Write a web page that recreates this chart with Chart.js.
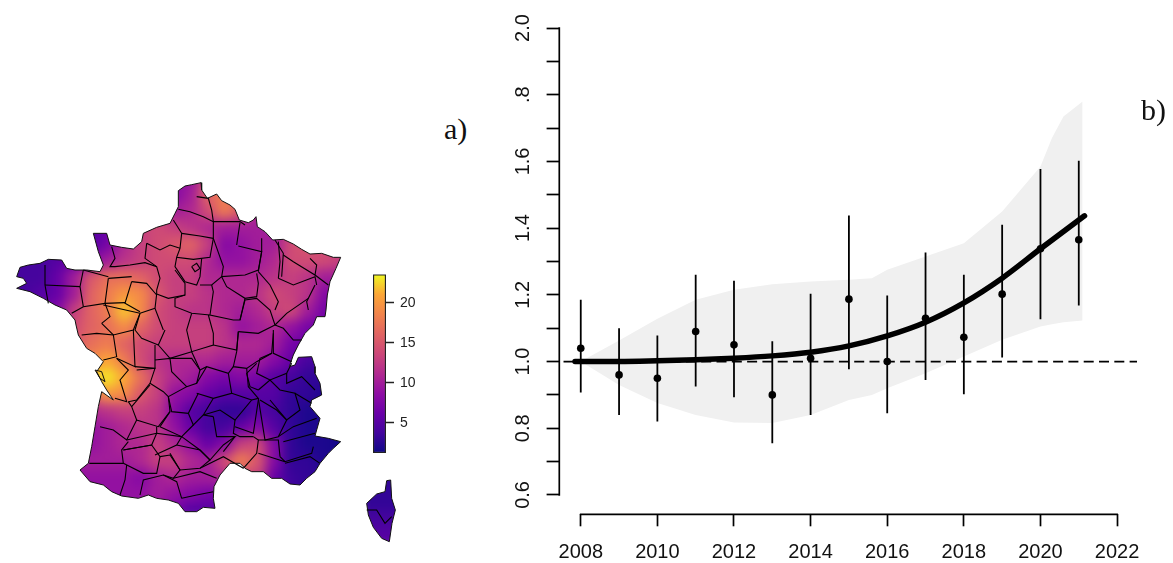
<!DOCTYPE html>
<html>
<head>
<meta charset="utf-8">
<title>Map and trend</title>
<script src="https://cdn.jsdelivr.net/npm/chart.js@4"></script>
<style>
  html, body { margin: 0; padding: 0; background: #fff; width: 1173px; height: 563px; overflow: hidden; }
  canvas { position: absolute; }
  .tag { position: absolute; font-family: 'Liberation Serif', serif; font-size: 30px; line-height: 32px; color: #111; }
</style>
</head>
<body>
<canvas id="mapChart" width="420" height="380" style="left:0;top:170px"></canvas>
<canvas id="barChart" width="70" height="210" style="left:360px;top:260px"></canvas>
<canvas id="trendChart" width="683" height="563" style="left:490px;top:0"></canvas>
<span class="tag" style="left:444px;top:113px">a)</span>
<span class="tag" style="left:1141px;top:94px">b)</span>
<script>
// Trend panel
const years = [2008, 2009, 2010, 2011, 2012, 2013, 2014, 2015, 2016, 2017, 2018, 2019, 2020, 2021];
const estimates = [1.04, 0.96, 0.95, 1.09, 1.05, 0.90, 1.01, 1.187, 1.0, 1.13, 1.073, 1.202, 1.338, 1.365];
const errLow = [0.907, 0.84, 0.82, 0.925, 0.893, 0.755, 0.84, 0.977, 0.845, 0.945, 0.902, 1.012, 1.127, 1.168];
const errHigh = [1.185, 1.10, 1.078, 1.26, 1.242, 1.061, 1.203, 1.438, 1.198, 1.327, 1.26, 1.41, 1.577, 1.602];

const trendX = [2007.85, 2009, 2010, 2011, 2012, 2013, 2014, 2015, 2016, 2017, 2018, 2019, 2020, 2021.15];
const trendY = [1.0, 1.0, 1.002, 1.005, 1.01, 1.017, 1.028, 1.047, 1.077, 1.118, 1.176, 1.25, 1.338, 1.437];

const bandX = [2008, 2009, 2010, 2011, 2012, 2013, 2014, 2015, 2015.6, 2016, 2017, 2018, 2019, 2020, 2020.3, 2020.6, 2021.1];
const bandHigh = [1.0, 1.063, 1.128, 1.185, 1.215, 1.232, 1.24, 1.245, 1.25, 1.275, 1.315, 1.355, 1.45, 1.585, 1.67, 1.735, 1.78];
const bandLow = [1.0, 0.93, 0.876, 0.84, 0.817, 0.816, 0.84, 0.885, 0.90, 0.92, 0.965, 1.015, 1.065, 1.105, 1.112, 1.118, 1.123];

const xTicks = [2008, 2010, 2012, 2014, 2016, 2018, 2020, 2022];
const yTicks = [0.6, 0.7, 0.8, 0.9, 1.0, 1.1, 1.2, 1.3, 1.4, 1.5, 1.6, 1.7, 1.8, 1.9, 2.0];
const yLabels = ['0.6', '', '0.8', '', '1.0', '', '1.2', '', '1.4', '', '1.6', '', '.8', '', '2.0'];

// Colour bar
const barRange = [1.23, 23.56];
const barTicks = [5, 10, 15, 20];
const plasma = ['#0d0887', '#41049d', '#6a00a8', '#8f0da4', '#b12a90', '#cc4778', '#e16462', '#f2844b', '#fca636', '#f0f921'];

// Map panel: rough value grid, one row per line, cells 50 map units apart
const gridX = [25, 75, 125, 175, 225, 275, 325, 375, 425, 475, 525, 575, 625, 675, 725, 775, 825, 875, 925, 975, 1025];
const gridY = [25, 75, 125, 175, 225, 275, 325, 375, 425, 475, 525, 575, 625, 675, 725, 775, 825, 875, 925, 975, 1025];
const heatRows = [
  [10, 10, 10, 10, 10, 10, 10, 10, 10, 10, 9, 9, 15, 17, 14, 11, 10, 10, 10, 10, 10],
  [10, 10, 10, 10, 10, 10, 10, 10, 10, 10, 8, 10, 16, 18, 15, 11, 10, 10, 10, 10, 10],
  [10, 10, 10, 10, 10, 10, 10, 10, 10, 12, 10, 11, 14, 18, 15, 11, 10, 10, 10, 10, 10],
  [5, 5, 5, 5, 5, 5, 6, 10, 13, 14, 13, 12, 11, 10, 10, 10, 10, 13, 13, 13, 13],
  [5, 5, 5, 5, 5, 5, 7, 11, 13, 14, 15, 16, 13, 8, 9, 10, 10, 14, 15, 14, 13],
  [4, 4, 4, 5, 6, 8, 10, 12, 13, 14, 14, 14, 11, 9, 9, 10, 11, 14, 14, 14, 13],
  [4, 4, 4, 6, 10, 15, 17, 17, 16, 14, 13, 13, 11, 11, 11, 11, 12, 13, 12, 10, 10],
  [4, 4, 5, 6, 10, 16, 18, 20, 19, 15, 13, 13, 12, 11, 11, 12, 14, 13, 12, 8, 8],
  [4, 5, 6, 8, 13, 16, 18, 22, 19, 14, 13, 12, 12, 11, 10, 11, 13, 14, 10, 7, 7],
  [8, 8, 8, 10, 14, 16, 17, 19, 16, 14, 13, 13, 13, 12, 9, 10, 11, 9, 7, 6, 6],
  [14, 14, 14, 14, 15, 17, 18, 16, 14, 13, 13, 13, 13, 12, 11, 11, 10, 7, 6, 6, 6],
  [20, 20, 20, 18, 18, 19, 21, 18, 14, 12, 11, 11, 11, 10, 10, 10, 8, 6, 4, 4, 4],
  [20, 20, 20, 20, 21, 22, 23, 21, 17, 13, 11, 10, 8, 7, 8, 7, 5, 4, 3, 3, 3],
  [14, 14, 14, 14, 15, 16, 20, 19, 15, 13, 9, 8, 6, 5, 5, 5, 5, 3, 3, 2, 2],
  [11, 11, 11, 11, 11, 11, 12, 13, 13, 12, 8, 5, 4, 3, 3, 5, 4, 3, 2, 2, 2],
  [9, 9, 9, 9, 9, 9, 10, 11, 12, 12, 9, 6, 4, 4, 6, 8, 5, 3, 2, 2, 2],
  [9, 9, 9, 9, 9, 9, 10, 11, 11, 13, 11, 9, 6, 8, 13, 14, 8, 3, 2, 2, 1.5],
  [10, 10, 10, 10, 10, 10, 10, 10, 11, 13, 13, 11, 10, 14, 18, 15, 8, 3, 3, 2, 2],
  [9, 9, 9, 9, 9, 9, 9, 9, 8, 10, 11, 10, 10, 11, 13, 13, 6, 3.5, 3, 3, 3],
  [9, 9, 9, 9, 9, 9, 9, 9, 9, 10, 9, 8, 7, 7, 7, 7, 6, 4, 3, 3, 3],
  [9, 9, 9, 9, 9, 9, 9, 9, 9, 9, 7, 5, 5, 5, 5, 5, 5, 4, 3, 3, 3]
];
const corsicaX = [1100, 1150, 1200];
const corsicaY = [900, 950, 1000, 1050, 1100, 1150];
const corsicaRows = [
  [3, 3, 3],
  [3, 3, 3],
  [3, 3, 3],
  [4, 4, 4],
  [5, 5, 5],
  [5, 5, 5]
];

const mainland = [[535,62],[555,48],[575,44],[603,38],[605,60],[622,85],[650,72],[665,92],[690,105],[705,118],[718,150],[745,158],[760,150],[768,140],[772,170],[795,185],[818,210],[850,208],[880,222],[905,238],[930,252],[965,250],[1000,262],[1022,262],[1008,295],[990,335],[982,375],[978,420],[975,440],[950,440],[940,465],[915,490],[895,525],[880,555],[868,590],[885,585],[895,562],[935,560],[945,590],[945,610],[960,640],[965,675],[935,690],[930,710],[960,745],[950,780],[945,798],[985,805],[1022,815],[1000,835],[985,850],[960,880],[945,905],[920,925],[900,945],[870,942],[845,925],[815,925],[790,905],[755,905],[735,895],[720,880],[690,880],[660,915],[642,950],[640,985],[645,1015],[610,1012],[590,1025],[555,1025],[535,1000],[505,990],[470,985],[445,975],[415,985],[365,978],[335,965],[310,945],[270,935],[240,900],[265,880],[275,830],[285,770],[295,710],[305,665],[340,690],[320,660],[305,635],[290,605],[310,575],[285,550],[260,535],[235,495],[228,465],[225,450],[200,420],[165,405],[130,385],[90,365],[50,355],[80,340],[70,325],[50,320],[60,292],[85,285],[120,280],[145,268],[185,270],[200,295],[225,300],[260,300],[300,305],[310,285],[295,245],[280,190],[320,190],[330,225],[365,232],[400,237],[425,215],[430,190],[470,172],[510,160],[525,130],[535,110],[535,62]];
const corsica = [[1160,932],[1172,930],[1175,985],[1186,1020],[1176,1060],[1168,1115],[1145,1105],[1120,1072],[1105,1035],[1100,1000],[1130,972],[1155,965],[1160,932]];
const oleron = [[285,600],[305,605],[315,635],[300,625],[285,600]];

const borders = [
  [[535,118],[570,125],[610,140],[640,155],[720,155],[735,165]],
  [[590,80],[625,85],[635,120],[640,155]],
  [[520,150],[545,190],[540,235],[530,262],[580,268],[630,262],[640,205],[640,155]],
  [[545,190],[600,198],[640,205]],
  [[440,220],[480,240],[510,225],[540,235]],
  [[440,220],[435,265],[470,290]],
  [[345,290],[390,285],[435,278],[470,290],[480,325],[470,360],[470,372]],
  [[335,230],[345,265],[330,290],[345,290]],
  [[530,262],[525,290],[555,335],[590,345],[600,320],[605,265]],
  [[575,290],[590,280],[600,295],[585,305],[575,290]],
  [[525,300],[555,340],[555,375],[505,385],[470,372]],
  [[600,345],[635,345],[665,320]],
  [[640,205],[670,290],[665,320],[735,315],[775,300],[785,245],[715,228]],
  [[720,158],[710,225]],
  [[785,205],[785,245],[775,305]],
  [[835,215],[840,275],[835,325]],
  [[825,210],[850,250],[845,320]],
  [[850,255],[880,275],[945,315],[950,285],[930,265]],
  [[945,315],[985,345]],
  [[835,325],[880,345],[945,320],[950,345]],
  [[945,345],[920,395],[925,420]],
  [[775,305],[810,345],[835,395],[825,420]],
  [[665,320],[680,350],[735,385],[770,380],[775,340],[770,310]],
  [[635,345],[640,365],[630,435],[700,450],[720,450],[735,385]],
  [[720,450],[725,430],[735,390],[770,385],[810,420],[825,465],[775,490],[715,485]],
  [[825,465],[860,430],[925,385]],
  [[825,465],[850,475],[880,510],[905,510]],
  [[820,480],[820,550],[875,575]],
  [[555,375],[525,385],[525,410],[575,430],[630,435]],
  [[470,372],[465,415],[490,480]],
  [[575,430],[560,480],[575,545],[640,525],[640,490],[625,435]],
  [[640,525],[710,540],[715,485]],
  [[715,485],[710,545],[700,590],[740,595],[770,575],[815,550],[820,490]],
  [[495,480],[475,525],[510,565],[575,545]],
  [[420,430],[465,415]],
  [[420,430],[405,480],[425,505],[475,525]],
  [[310,405],[420,430]],
  [[305,460],[340,495],[400,480],[420,430]],
  [[395,335],[375,400],[420,425]],
  [[395,335],[440,340],[470,375]],
  [[325,325],[395,320]],
  [[325,325],[315,400],[375,398]],
  [[250,300],[325,320]],
  [[250,410],[240,350],[250,300]],
  [[315,400],[250,410],[215,430]],
  [[135,345],[240,350]],
  [[135,285],[135,345],[145,400]],
  [[315,400],[330,440],[305,460]],
  [[245,495],[290,490],[340,495],[350,560],[310,570]],
  [[400,480],[405,590],[350,565]],
  [[465,525],[465,595],[410,600]],
  [[350,565],[385,600],[360,630],[380,695],[345,685]],
  [[405,590],[465,595],[450,640],[410,690],[385,695]],
  [[465,570],[510,565],[515,605],[560,650],[505,680],[490,665],[450,640]],
  [[510,565],[575,565],[600,600],[590,640],[560,650]],
  [[575,545],[600,600],[620,590],[685,610],[700,590]],
  [[590,640],[620,590]],
  [[685,610],[695,670],[640,685],[590,670]],
  [[505,680],[515,725],[565,730],[595,670]],
  [[565,730],[580,765],[610,735],[640,685]],
  [[610,735],[660,720],[705,750],[755,690],[695,670]],
  [[740,595],[745,650],[775,685],[755,690]],
  [[770,580],[740,610],[750,650],[775,660]],
  [[815,550],[780,565],[770,610],[810,630],[860,610],[875,580]],
  [[775,660],[810,630],[840,660],[885,670],[900,720],[860,750],[830,720],[780,690]],
  [[860,610],[860,640],[905,620],[945,660]],
  [[885,670],[935,700]],
  [[775,685],[795,810],[835,800],[860,750],[810,690]],
  [[775,690],[760,790],[705,770]],
  [[705,750],[700,790],[720,800],[760,800]],
  [[640,740],[650,800],[705,800],[670,825],[630,870],[600,840],[545,800]],
  [[610,735],[640,740]],
  [[580,765],[545,800],[480,770],[510,725]],
  [[395,710],[450,645]],
  [[505,680],[510,725],[475,770],[410,750],[395,710],[385,695]],
  [[300,770],[340,780],[380,810],[410,750]],
  [[380,810],[470,790],[455,825],[370,840]],
  [[470,770],[470,790],[545,800],[530,825],[465,855]],
  [[268,880],[370,880],[365,840],[385,815]],
  [[370,840],[455,825],[480,860],[470,910],[430,910],[370,880]],
  [[530,825],[600,840],[630,870],[600,895],[540,900],[510,850]],
  [[480,860],[510,855],[540,900],[520,925],[490,915],[430,930],[420,975]],
  [[490,915],[530,935],[545,985]],
  [[520,925],[600,905],[650,925]],
  [[545,985],[590,975],[640,965]],
  [[600,895],[670,860],[730,895]],
  [[670,845],[705,800]],
  [[760,800],[775,810],[770,850],[730,895]],
  [[775,850],[855,875]],
  [[775,810],[835,810],[840,860]],
  [[855,880],[930,860],[960,880]],
  [[835,800],[880,770],[950,745]],
  [[850,815],[945,790]],
  [[840,860],[855,875],[935,850],[940,830]],
  [[380,885],[375,930],[360,975]],
  [[1100,1020],[1130,1020],[1155,1060],[1175,1040]]
];

// Linear mix between the plasma stops
function mixColor(v) {
  const t = Math.min(1, Math.max(0, (v - barRange[0]) / (barRange[1] - barRange[0]))) * (plasma.length - 1);
  const i = Math.min(plasma.length - 2, Math.floor(t));
  const f = t - i;
  const a = parseInt(plasma[i].slice(1), 16);
  const b = parseInt(plasma[i + 1].slice(1), 16);
  const ch = s => Math.round(((a >> s) & 255) * (1 - f) + ((b >> s) & 255) * f);
  return `rgb(${ch(16)}, ${ch(8)}, ${ch(0)})`;
}

const toPoints = list => list.map(p => ({ x: p[0], y: p[1] }));

// Map heat cells, from both grids
const heatPoints = [];
const heatColors = [];
heatRows.forEach((row, r) => row.forEach((v, c) => {
  heatPoints.push({ x: gridX[c], y: gridY[r] });
  heatColors.push(mixColor(v));
}));
corsicaRows.forEach((row, r) => row.forEach((v, c) => {
  heatPoints.push({ x: corsicaX[c], y: corsicaY[r] });
  heatColors.push(mixColor(v));
}));

// Once the heat cells are drawn, blur them as one image and clip to the coast
const heatClip = {
  id: 'heatClip',
  afterDatasetDraw(chart, args) {
    if (args.index !== 0) return;
    const { ctx, canvas, scales } = chart;
    const copy = document.createElement('canvas');
    copy.width = canvas.width;
    copy.height = canvas.height;
    copy.getContext('2d').drawImage(canvas, 0, 0);
    ctx.clearRect(0, 0, canvas.width, canvas.height);
    ctx.save();
    ctx.beginPath();
    [mainland, corsica, oleron].forEach(shape => {
      shape.forEach((p, i) => {
        const px = scales.x.getPixelForValue(p[0]);
        const py = scales.y.getPixelForValue(p[1]);
        if (i === 0) ctx.moveTo(px, py); else ctx.lineTo(px, py);
      });
      ctx.closePath();
    });
    ctx.clip();
    ctx.filter = 'blur(6px)';
    ctx.drawImage(copy, 0, 0);
    ctx.restore();
  }
};

const lineSet = (pts, width, color) => ({
  type: 'line', data: toPoints(pts), borderColor: color, borderWidth: width,
  pointRadius: 0, fill: false, clip: false, order: 1, tension: 0
});

new Chart(document.getElementById('mapChart'), {
  type: 'scatter',
  data: {
    datasets: [
      { data: heatPoints, pointStyle: 'rect', pointRadius: 13, pointBorderWidth: 0, pointBackgroundColor: heatColors, clip: false, order: 2 },
      lineSet(mainland, 1, '#111'),
      lineSet(corsica, 1, '#111'),
      lineSet(oleron, 1, '#111'),
      ...borders.map(b => lineSet(b, 1.1, '#000'))
    ]
  },
  options: {
    responsive: false,
    animation: false,
    layout: { padding: 0, autoPadding: false },
    plugins: { legend: { display: false }, tooltip: { enabled: false } },
    scales: {
      x: { type: 'linear', min: 0, max: 1260, display: false },
      y: { type: 'linear', min: 0, max: 1140, reverse: true, display: false }
    }
  },
  plugins: [heatClip]
});

new Chart(document.getElementById('barChart'), {
  type: 'bar',
  data: {
    labels: [''],
    datasets: [{
      data: [barRange],
      categoryPercentage: 1,
      barPercentage: 1,
      borderColor: '#222',
      borderWidth: 1.5,
      borderSkipped: false,
      backgroundColor(c) {
        const area = c.chart.chartArea;
        if (!area) return plasma[0];
        const g = c.chart.ctx.createLinearGradient(0, area.bottom, 0, area.top);
        plasma.forEach((col, i) => g.addColorStop(i / (plasma.length - 1), col));
        return g;
      }
    }]
  },
  options: {
    responsive: false,
    animation: false,
    layout: { padding: { left: 13, top: 11, bottom: 17 } },
    plugins: { legend: { display: false }, tooltip: { enabled: false } },
    scales: {
      x: { display: false },
      y: {
        position: 'right',
        min: barRange[0],
        max: barRange[1],
        afterBuildTicks: s => { s.ticks = barTicks.map(v => ({ value: v })); },
        afterFit: s => { s.width = 44; },
        border: { display: false },
        grid: { drawOnChartArea: false, tickLength: 8, tickColor: '#222', tickWidth: 1.5 },
        ticks: { autoSkip: false, padding: 6, color: '#222', font: { family: "'Liberation Sans', Arial, sans-serif", size: 14 } }
      }
    }
  }
});

// R-style axis lines that only run between the outer ticks
const axisSpines = {
  id: 'axisSpines',
  afterDraw(chart) {
    const { ctx, scales, chartArea } = chart;
    ctx.save();
    ctx.strokeStyle = '#000';
    ctx.lineWidth = 1.7;
    ctx.lineCap = 'square';
    ctx.beginPath();
    ctx.moveTo(chartArea.left, scales.y.getPixelForValue(yTicks[0]));
    ctx.lineTo(chartArea.left, scales.y.getPixelForValue(yTicks[yTicks.length - 1]));
    ctx.moveTo(scales.x.getPixelForValue(xTicks[0]), chartArea.bottom);
    ctx.lineTo(scales.x.getPixelForValue(xTicks[xTicks.length - 1]), chartArea.bottom);
    ctx.stroke();
    ctx.restore();
  }
};

const errorPoints = [];
years.forEach((yr, i) => {
  errorPoints.push({ x: yr, y: errLow[i] }, { x: yr, y: errHigh[i] }, { x: yr, y: null });
});

const axisFont = { family: "'Liberation Sans', Arial, sans-serif", size: 20 };
const xMin = 2007.44;
const xMax = 2022.52;
const dashStart = 2007.55;

new Chart(document.getElementById('trendChart'), {
  type: 'line',
  data: {
    datasets: [
      {
        data: bandX.map((x, i) => ({ x, y: bandHigh[i] })),
        borderWidth: 0, pointRadius: 0, backgroundColor: '#f0f0f0', fill: '+1', order: 5, tension: 0
      },
      {
        data: bandX.map((x, i) => ({ x, y: bandLow[i] })),
        borderWidth: 0, pointRadius: 0, fill: false, order: 5, tension: 0
      },
      {
        data: [{ x: dashStart, y: 1 }, { x: xMax, y: 1 }],
        borderColor: '#000', borderWidth: 1.7, borderDash: [10, 5.3], pointRadius: 0, order: 4
      },
      {
        data: errorPoints,
        borderColor: '#000', borderWidth: 1.8, pointRadius: 0, spanGaps: false, order: 3
      },
      {
        data: years.map((x, i) => ({ x, y: estimates[i] })),
        showLine: false, pointRadius: 3.8, pointBackgroundColor: '#000', pointBorderWidth: 0, order: 2
      },
      {
        data: trendX.map((x, i) => ({ x, y: trendY[i] })),
        borderColor: '#000', borderWidth: 5.5, pointRadius: 0, borderCapStyle: 'round', cubicInterpolationMode: 'monotone', order: 1
      }
    ]
  },
  options: {
    responsive: false,
    animation: false,
    layout: { padding: { top: 28, right: 36 } },
    plugins: { legend: { display: false }, tooltip: { enabled: false } },
    scales: {
      x: {
        type: 'linear',
        min: xMin,
        max: xMax,
        afterBuildTicks: s => { s.ticks = xTicks.map(v => ({ value: v })); },
        afterFit: s => { s.height = 48.7; },
        border: { display: false },
        grid: { drawOnChartArea: false, tickLength: 12, tickColor: '#000', tickWidth: 1.7 },
        ticks: { autoSkip: false, maxRotation: 0, padding: 14, color: '#111', font: axisFont, callback: v => String(v) }
      },
      y: {
        type: 'linear',
        min: 0.542,
        max: 2.0,
        afterBuildTicks: s => { s.ticks = yTicks.map(v => ({ value: v })); },
        afterFit: s => { s.width = 69.3; },
        border: { display: false },
        grid: { drawOnChartArea: false, tickLength: 12.7, tickColor: '#000', tickWidth: 1.7 },
        ticks: {
          autoSkip: false, minRotation: 90, maxRotation: 90, crossAlign: 'center', padding: 9.5,
          color: '#111', font: axisFont,
          callback: (v, i) => yLabels[i]
        }
      }
    }
  },
  plugins: [axisSpines]
});
</script>
</body>
</html>
